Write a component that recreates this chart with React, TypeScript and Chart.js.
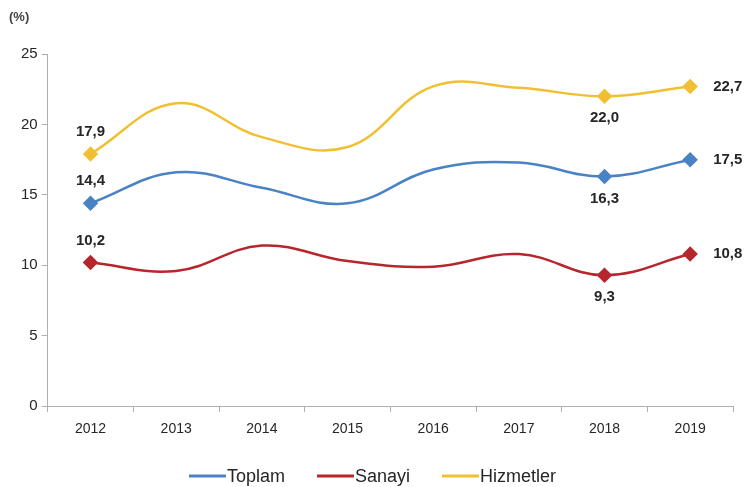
import React, { useEffect, useRef } from "react";
import { Chart, registerables } from "chart.js";

Chart.register(...registerables);

const years = ["2012", "2013", "2014", "2015", "2016", "2017", "2018", "2019"];
const toplam = [14.4, 16.6, 15.5, 14.4, 16.8, 17.3, 16.3, 17.5];
const sanayi = [10.2, 9.6, 11.4, 10.3, 9.9, 10.8, 9.3, 10.8];
const hizmetler = [17.9, 21.5, 19.1, 18.4, 22.7, 22.6, 22.0, 22.7];
const markedIdx = [0, 6, 7];
const labelPos = ["top", "bottom", "right"];

const FONT = "'Liberation Sans', Arial, sans-serif";
const fmt = (v: number) => v.toFixed(1).replace(".", ",");

const labelPlugin = {
  id: "labels",
  afterDatasetsDraw(chart: any) {
    const ctx = chart.ctx;
    ctx.save();
    ctx.font = `bold 15px ${FONT}`;
    ctx.fillStyle = "#262626";
    chart.data.datasets.forEach((ds: any, di: number) => {
      const meta = chart.getDatasetMeta(di);
      markedIdx.forEach((idx, k) => {
        const pt = meta.data[idx];
        const txt = fmt(ds.data[idx]);
        const pos = labelPos[k];
        if (pos === "top") {
          ctx.textAlign = "center";
          ctx.textBaseline = "middle";
          ctx.fillText(txt, pt.x, pt.y - 22);
        } else if (pos === "bottom") {
          ctx.textAlign = "center";
          ctx.textBaseline = "middle";
          ctx.fillText(txt, pt.x, pt.y + 22);
        } else {
          ctx.textAlign = "left";
          ctx.textBaseline = "middle";
          ctx.fillText(txt, pt.x + 23, pt.y);
        }
      });
    });
    // unit label
    ctx.font = `bold 13px ${FONT}`;
    ctx.fillStyle = "#444";
    ctx.textAlign = "left";
    ctx.textBaseline = "middle";
    ctx.fillText("(%)", 9, 17);

    // legend
    ctx.font = `18px ${FONT}`;
    const lineW = 37;
    const gap = 32;
    const items = chart.data.datasets.map((ds: any) => ({
      text: ds.label,
      color: ds.borderColor,
      w: lineW + 1 + ctx.measureText(ds.label).width,
    }));
    const total = items.reduce((s: number, it: any) => s + it.w, 0) + gap * (items.length - 1);
    let x = chart.width / 2 - total / 2;
    const y = 476;
    items.forEach((it: any) => {
      ctx.strokeStyle = it.color;
      ctx.lineWidth = 3;
      ctx.beginPath();
      ctx.moveTo(x, y);
      ctx.lineTo(x + lineW, y);
      ctx.stroke();
      ctx.fillStyle = "#262626";
      ctx.fillText(it.text, x + lineW + 1, y + 1);
      x += it.w + gap;
    });
    ctx.restore();
  },
};

export default function App() {
  const ref = useRef<HTMLCanvasElement>(null);
  useEffect(() => {
    document.body.style.margin = "0";
    const radii = (arr: number[]) => arr.map((_, i) => (markedIdx.includes(i) ? 6 : 0));
    const mk = (label: string, data: number[], color: string) => ({
      label,
      data,
      borderColor: color,
      backgroundColor: color,
      borderWidth: 2.5,
      tension: 0.4,
      pointStyle: "rectRot",
      pointRadius: radii(data),
      pointHoverRadius: 0,
      pointBackgroundColor: color,
      pointBorderColor: color,
    });
    const chart = new Chart(ref.current!, {
      type: "line",
      data: {
        labels: years,
        datasets: [
          mk("Toplam", toplam, "#4a83c3"),
          mk("Sanayi", sanayi, "#b5272d"),
          mk("Hizmetler", hizmetler, "#f0c032"),
        ],
      },
      options: {
        animation: false,
        responsive: false,
        layout: { padding: { top: 54, right: 12, left: 17, bottom: 40 } },
        plugins: {
          tooltip: { enabled: false },
          legend: { display: false },
        },
        scales: {
          x: {
            offset: true,
            grid: { display: true, drawOnChartArea: false, offset: true, tickLength: 6, color: "#b0b0b0" },
            border: { color: "#b0b0b0" },
            ticks: { color: "#262626", font: { size: 14, family: FONT }, padding: 9 },
          },
          y: {
            min: 0,
            max: 25,
            grid: { display: true, drawOnChartArea: false, tickLength: 6, color: "#b0b0b0" },
            border: { color: "#b0b0b0" },
            ticks: { stepSize: 5, color: "#262626", font: { size: 15, family: FONT }, padding: 4 },
          },
        },
      },
      plugins: [labelPlugin],
    });
    return () => chart.destroy();
  }, []);
  return <canvas ref={ref} width={745} height={487} style={{ display: "block" }} />;
}
